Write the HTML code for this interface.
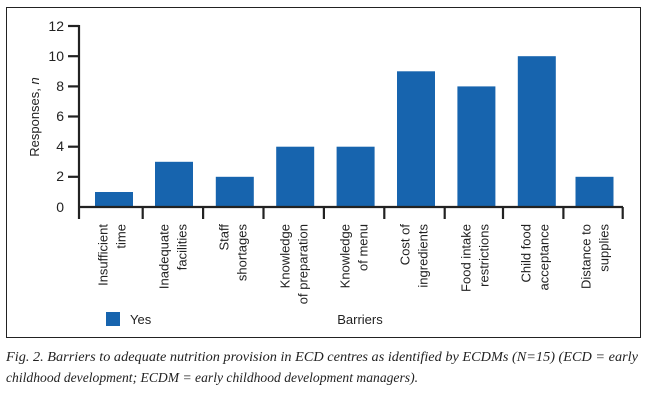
<!DOCTYPE html>
<html><head><meta charset="utf-8"><style>
body{margin:0;background:#fff;width:646px;height:400px;overflow:hidden}
svg{display:block}
</style></head><body>
<svg width="646" height="400" viewBox="0 0 646 400" font-family="Liberation Sans, sans-serif">
<rect x="6.5" y="7.5" width="634" height="330" fill="none" stroke="#222" stroke-width="1"/>
<g fill="#1764ae">
<rect x="95" y="192" width="38" height="15"/>
<rect x="155" y="161.8" width="38" height="45.2"/>
<rect x="215.8" y="176.8" width="38" height="30.2"/>
<rect x="276.2" y="146.7" width="38" height="60.3"/>
<rect x="336.6" y="146.7" width="38" height="60.3"/>
<rect x="397" y="71.3" width="38" height="135.7"/>
<rect x="457.4" y="86.4" width="38" height="120.6"/>
<rect x="517.8" y="56.2" width="38" height="150.8"/>
<rect x="575.5" y="176.8" width="38" height="30.2"/>
</g>
<g stroke="#222" stroke-width="2.2" fill="none">
<line x1="79" y1="25" x2="79" y2="219"/>
<line x1="78" y1="207" x2="623" y2="207"/>
<line x1="68" y1="26" x2="79" y2="26"/>
<line x1="68" y1="56.2" x2="79" y2="56.2"/>
<line x1="68" y1="86.4" x2="79" y2="86.4"/>
<line x1="68" y1="116.5" x2="79" y2="116.5"/>
<line x1="68" y1="146.7" x2="79" y2="146.7"/>
<line x1="68" y1="176.8" x2="79" y2="176.8"/>
<line x1="142.7" y1="207" x2="142.7" y2="219"/>
<line x1="203.1" y1="207" x2="203.1" y2="219"/>
<line x1="263.5" y1="207" x2="263.5" y2="219"/>
<line x1="323.9" y1="207" x2="323.9" y2="219"/>
<line x1="384.3" y1="207" x2="384.3" y2="219"/>
<line x1="444.7" y1="207" x2="444.7" y2="219"/>
<line x1="503" y1="207" x2="503" y2="219"/>
<line x1="563.4" y1="207" x2="563.4" y2="219"/>
<line x1="622.7" y1="207" x2="622.7" y2="219"/>
</g>
<g font-size="14" fill="#222" text-anchor="end">
<text x="64" y="31">12</text><text x="64" y="61">10</text><text x="64" y="91">8</text>
<text x="64" y="121">6</text><text x="64" y="151">4</text><text x="64" y="181">2</text><text x="64" y="212">0</text>
</g>
<text transform="translate(39,117) rotate(-90)" text-anchor="middle" font-size="13" fill="#222">Responses, <tspan font-style="italic">n</tspan></text>
<g font-size="13" fill="#222" text-anchor="end">
<text transform="translate(112,224) rotate(-90)"><tspan x="0" y="-4.5">Insufficient</tspan><tspan x="0" y="13.5">time</tspan></text>
<text transform="translate(173,224) rotate(-90)"><tspan x="0" y="-4.5">Inadequate</tspan><tspan x="0" y="13.5">facilities</tspan></text>
<text transform="translate(233,224) rotate(-90)"><tspan x="0" y="-4.5">Staff</tspan><tspan x="0" y="13.5">shortages</tspan></text>
<text transform="translate(294,224) rotate(-90)"><tspan x="0" y="-4.5">Knowledge</tspan><tspan x="0" y="13.5">of preparation</tspan></text>
<text transform="translate(354,224) rotate(-90)"><tspan x="0" y="-4.5">Knowledge</tspan><tspan x="0" y="13.5">of menu</tspan></text>
<text transform="translate(414,224) rotate(-90)"><tspan x="0" y="-4.5">Cost of</tspan><tspan x="0" y="13.5">ingredients</tspan></text>
<text transform="translate(475,224) rotate(-90)"><tspan x="0" y="-4.5">Food intake</tspan><tspan x="0" y="13.5">restrictions</tspan></text>
<text transform="translate(535,224) rotate(-90)"><tspan x="0" y="-4.5">Child food</tspan><tspan x="0" y="13.5">acceptance</tspan></text>
<text transform="translate(595,224) rotate(-90)"><tspan x="0" y="-4.5">Distance to</tspan><tspan x="0" y="13.5">supplies</tspan></text>
</g>
<rect x="106" y="312" width="14" height="14" fill="#1764ae"/>
<text x="130" y="324" font-size="13" fill="#222">Yes</text>
<text x="360" y="324" font-size="13" fill="#222" text-anchor="middle">Barriers</text>
<g font-family="Liberation Serif, serif" font-style="italic" font-size="13.8" fill="#222">
<text x="6" y="361" textLength="632" lengthAdjust="spacingAndGlyphs">Fig. 2. Barriers to adequate nutrition provision in ECD centres as identified by ECDMs (N=15) (ECD = early</text>
<text x="6" y="382" textLength="412" lengthAdjust="spacingAndGlyphs">childhood development; ECDM = early childhood development managers).</text>
</g>
</svg>
</body></html>
